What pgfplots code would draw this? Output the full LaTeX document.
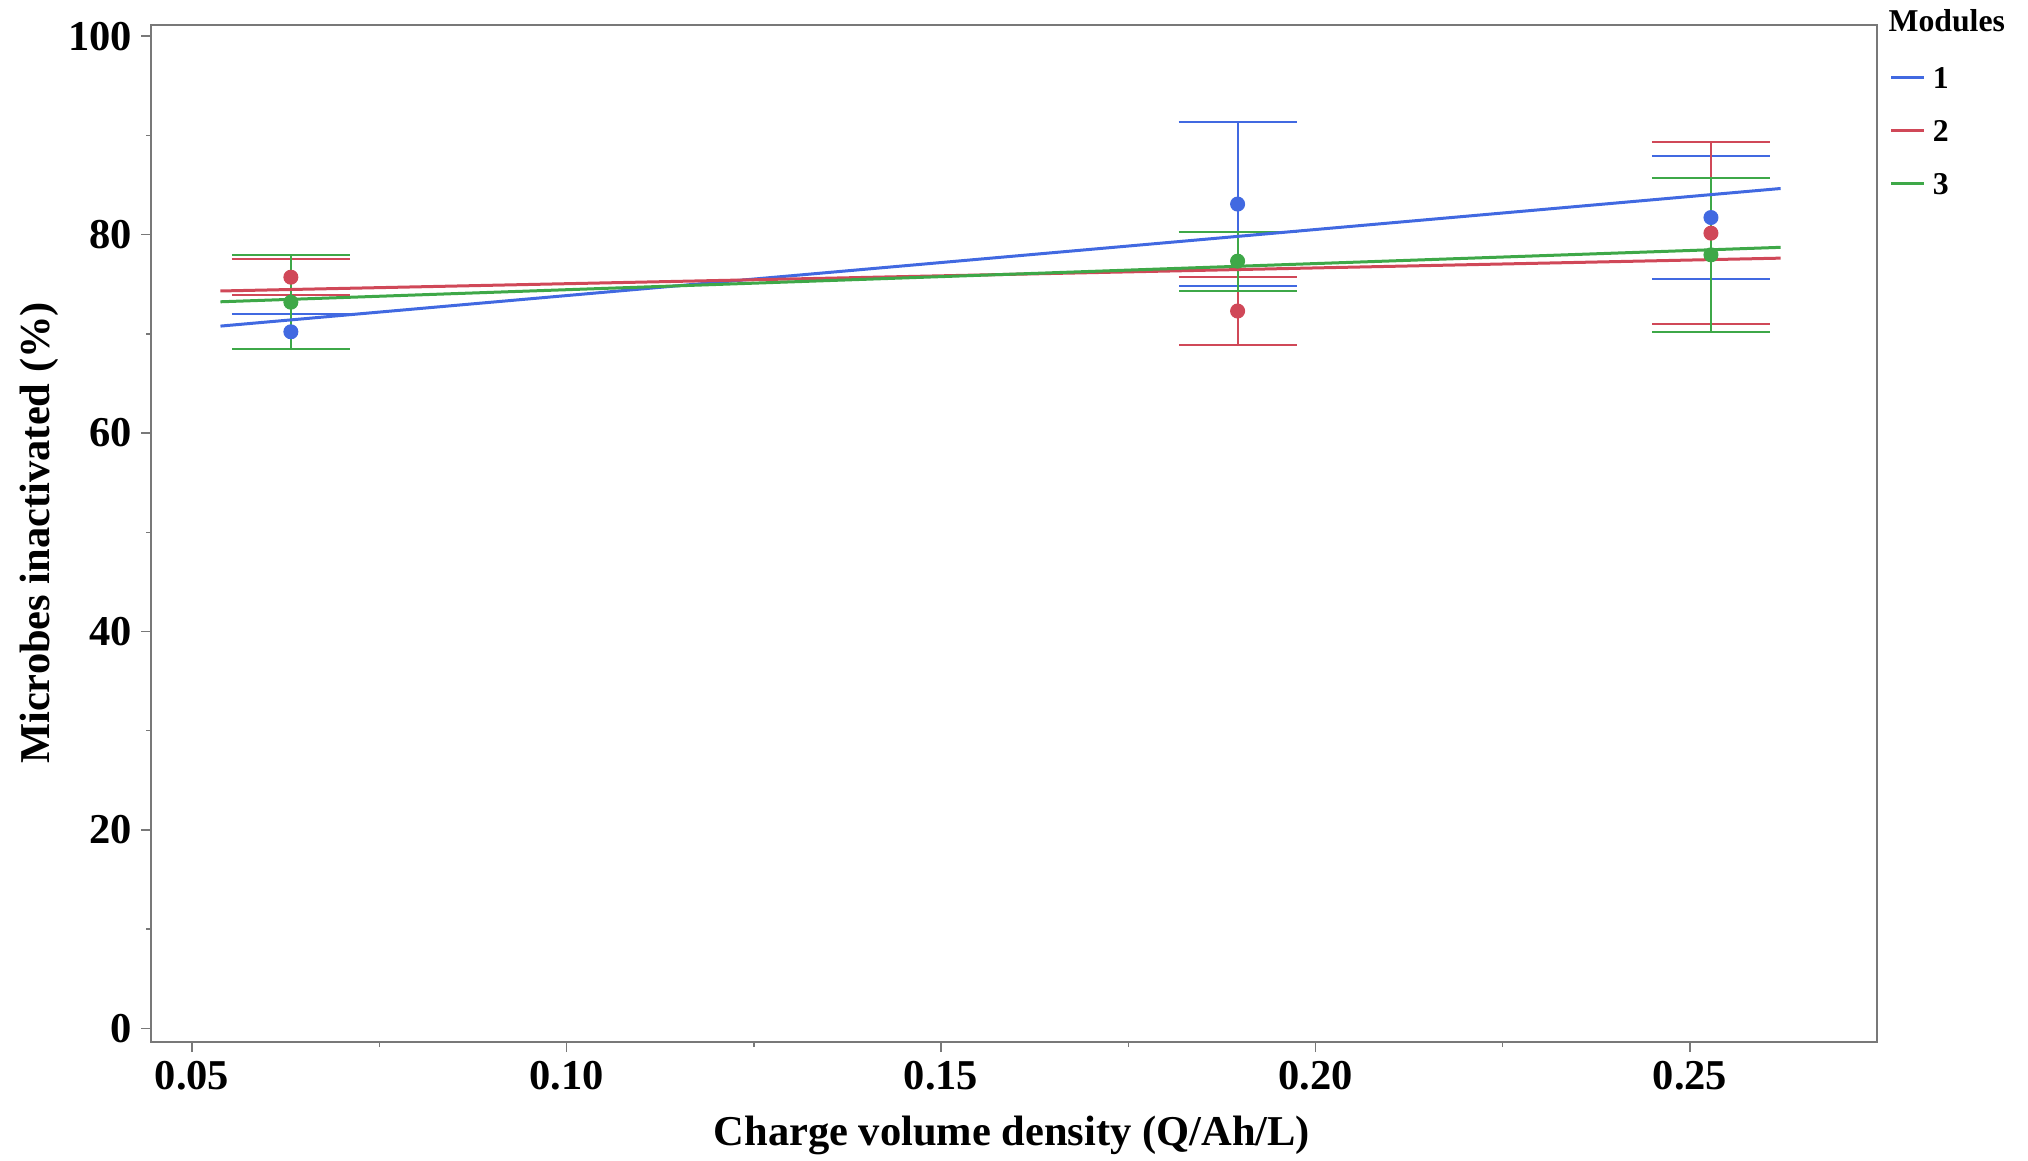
\documentclass[border=0pt]{standalone}
\usepackage{fontspec}
\setmainfont{Liberation Serif}
\usepackage{pgfplots}
\pgfplotsset{compat=1.18}
\definecolor{mblue}{RGB}{65,105,225}
\definecolor{mred}{RGB}{208,72,88}
\definecolor{mgreen}{RGB}{62,168,72}
\definecolor{axgray}{RGB}{120,120,120}
\begin{document}
\begin{tikzpicture}
\useasboundingbox (0,0) rectangle (811.2pt,464pt);
\begin{axis}[
  at={(60.4pt,47.2pt)}, anchor=south west,
  scale only axis, width=690.4pt, height=406.8pt,
  xmin=0.044525, xmax=0.27497, ymin=-1.38, ymax=101.13,
  axis line style={axgray, line width=0.7pt},
  tick style={axgray, line width=0.6pt},
  tick align=outside, tick pos=left,
  major tick length=4pt, minor tick length=2pt,
  xtick={0.05,0.10,0.15,0.20,0.25}, minor xtick={0.075,0.125,0.175,0.225,0.275},
  ytick={0,20,40,60,80,100}, minor ytick={10,30,50,70,90},
  xticklabel style={/pgf/number format/.cd, fixed, fixed zerofill, precision=2},
  /pgf/number format/assume math mode=true,
  tick label style={font=\fontsize{17}{20}\selectfont\bfseries, text=black},
  label style={font=\fontsize{17}{20}\selectfont\bfseries},
  xlabel={Charge volume density (Q/Ah/L)},
  ylabel={Microbes inactivated (\%)},
  xlabel style={at={(axis description cs:0.4988,-0.0922)}, anchor=center},
  ylabel style={at={(axis description cs:-0.0649,0.5006)}, anchor=center},
  legend style={draw=none, fill=none, inner sep=0pt, outer sep=0pt,
    at={(axis description cs:1.0075,0.9598)}, anchor=north west,
    font=\fontsize{12.7}{15}\selectfont\bfseries, row sep=12.3pt, column sep=2.8pt,
    nodes={inner sep=0pt, text height=9pt, text depth=0pt}},
  legend cell align=left,
  legend image code/.code={\draw[#1, line width=1.2pt] (0pt,0pt) -- (13.2pt,0pt);},
  clip=false,
]
% points with error bars
\addplot[mblue, only marks, mark=*, mark size=2.8pt, forget plot,
  error bars/.cd, y dir=both, y explicit,
  error bar style={line width=0.8pt, mblue},
  error mark options={rotate=90, mblue, mark size=23.6pt, line width=0.8pt}]
  table[x=x, y=y, y error=e] {
x y e
0.0632 70.205 1.765
0.1896 83.08 8.26
0.2528 81.725 6.165
};
\addplot[mred, only marks, mark=*, mark size=2.8pt, forget plot,
  error bars/.cd, y dir=both, y explicit,
  error bar style={line width=0.8pt, mred},
  error mark options={rotate=90, mred, mark size=23.6pt, line width=0.8pt}]
  table[x=x, y=y, y error=e] {
x y e
0.0632 75.71 1.83
0.1896 72.30 3.46
0.2528 80.15 9.16
};
\addplot[mgreen, only marks, mark=*, mark size=2.8pt, forget plot,
  error bars/.cd, y dir=both, y explicit,
  error bar style={line width=0.8pt, mgreen},
  error mark options={rotate=90, mgreen, mark size=23.6pt, line width=0.8pt}]
  table[x=x, y=y, y error=e] {
x y e
0.0632 73.19 4.75
0.1896 77.325 2.975
0.2528 77.965 7.745
};
% fit lines
\addplot[mblue, line width=1.2pt, mark=none] coordinates {(0.0538,70.78) (0.2621,84.65)};
\addlegendentry{1}
\addplot[mred, line width=1.2pt, mark=none] coordinates {(0.0538,74.32) (0.2621,77.63)};
\addlegendentry{2}
\addplot[mgreen, line width=1.2pt, mark=none] coordinates {(0.0538,73.23) (0.2621,78.72)};
\addlegendentry{3}
\node[anchor=base west, inner sep=0pt, font=\fontsize{12.7}{15}\selectfont\bfseries] at (axis description cs:1.0064,0.9941) {Modules};
\end{axis}
\end{tikzpicture}
\end{document}
